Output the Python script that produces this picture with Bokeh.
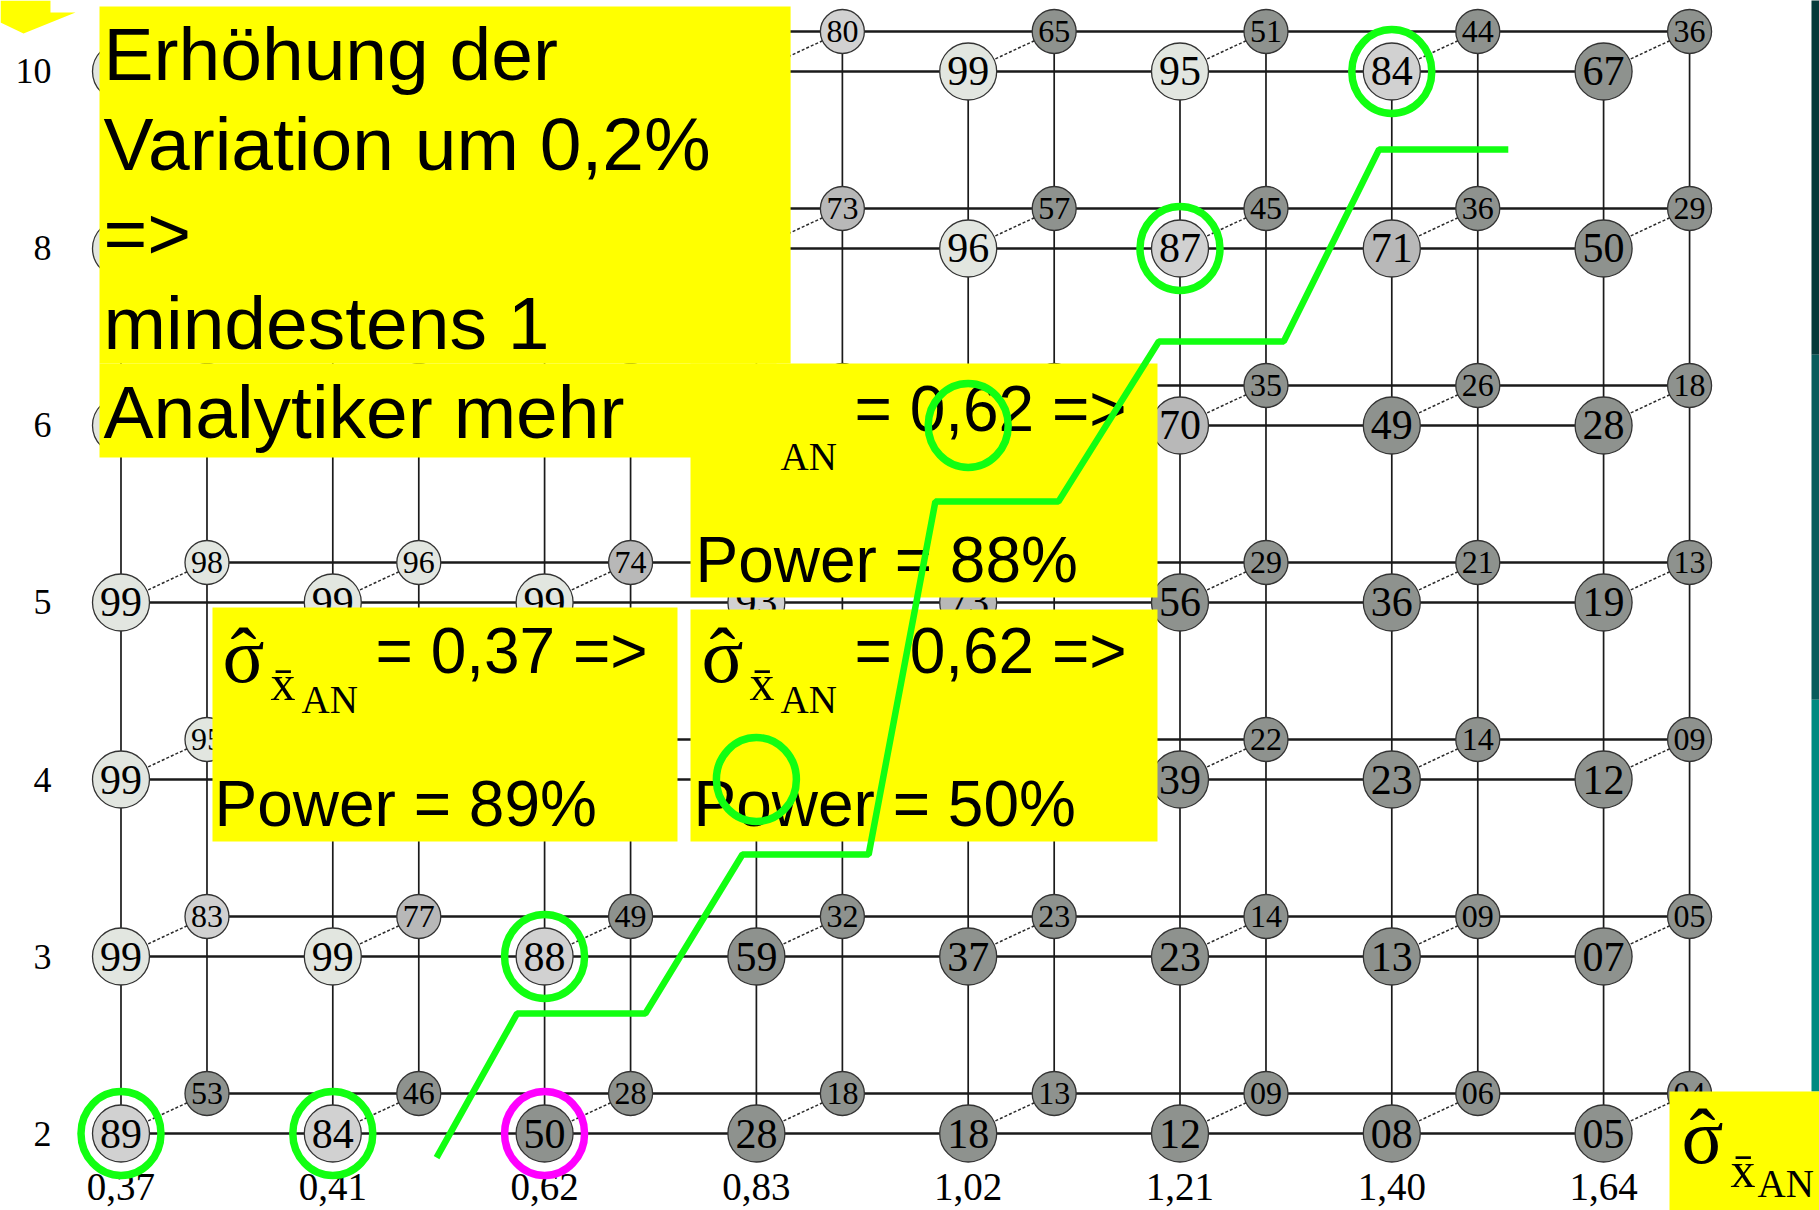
from bokeh.plotting import figure
from bokeh.models import Range1d, ColumnDataSource
from bokeh.core.properties import value
from bokeh.embed import file_html
from bokeh.resources import INLINE

# ---------------- data ----------------
sigma_labels = ["0,37", "0,41", "0,62", "0,83", "1,02", "1,21", "1,40", "1,64"]
n_labels = ["2", "3", "4", "5", "6", "8", "10"]          # rows, bottom to top

# Power (%) on the front grid; None = cell hidden behind an overlay box
front_power = [
    [89, 84, 50, 28, 18, 12, 8, 5],                       # n = 2
    [99, 99, 88, 59, 37, 23, 13, 7],                      # n = 3
    [99, None, None, None, None, 39, 23, 12],             # n = 4
    [99, 99, 99, 93, 73, 56, 36, 19],                     # n = 5
    [None, None, None, None, None, 70, 49, 28],           # n = 6
    [None, None, None, None, 96, 87, 71, 50],             # n = 8
    [None, None, None, None, 99, 95, 84, 67],             # n = 10
]
# Power (%) on the back grid
back_power = [
    [53, 46, 28, 18, 13, 9, 6, 4],
    [83, 77, 49, 32, 23, 14, 9, 5],
    [95, None, None, None, None, 22, 14, 9],
    [98, 96, 74, None, None, 29, 21, 13],
    [None, None, None, None, None, 35, 26, 18],
    [None, None, None, 73, 57, 45, 36, 29],
    [None, None, None, 80, 65, 51, 44, 36],
]
# highlighted cells (sigma label, n label)
green_cells = [("0,37", "2"), ("0,41", "2"), ("0,62", "3"), ("1,21", "8"),
               ("1,40", "10"), ("1,02", "6"), ("0,83", "4")]
magenta_cells = [("0,62", "2")]

# green step line (in grid units: column index, row index)
step_x = [1.49, 1.87, 2.476, 2.934, 3.53, 3.845, 4.426, 4.90, 5.49, 5.94, 6.55]
step_y = [-0.136, 0.678, 0.678, 1.576, 1.576, 3.57, 3.57, 4.475, 4.475, 5.56, 5.56]

# ---------------- figure ----------------
p = figure(width=1819, height=1210,
           x_range=Range1d(-0.5689, 8.0194), y_range=Range1d(-0.4350, 6.4011),
           output_backend="svg", toolbar_location=None, min_border=0,
           x_axis_location=None, y_axis_location=None,
           outline_line_color=None, background_fill_color="white",
           border_fill_color="white")
p.grid.visible = False

ncol, nrow = len(sigma_labels), len(n_labels)
DX, DY = 0.406, 0.226     # offset of the back grid
LINE = "#1a1a1a"
SERIF = value("Liberation Serif")
SANS = value("Liberation Sans")

# slide background edge on the right
p.quad(left=[7.9816] * 3, right=[8.03] * 3, top=[6.41, 4.40, 2.45], bottom=[4.40, 2.45, 0.2373],
       fill_color=["#073a3a", "#0a5c5c", "#008a80"], line_color=None)

# grid lines
fh_x = [[0, ncol - 1] for r in range(nrow)]
fh_y = [[r, r] for r in range(nrow)]
fv_x = [[c, c] for c in range(ncol)]
fv_y = [[0, nrow - 1] for c in range(ncol)]
p.multi_line([[a + DX for a in xs] for xs in fh_x], [[b + DY for b in ys] for ys in fh_y],
             line_color=LINE, line_width=2.6)
p.multi_line([[a + DX for a in xs] for xs in fv_x], [[b + DY for b in ys] for ys in fv_y],
             line_color=LINE, line_width=1.7)
p.multi_line(fh_x, fh_y, line_color=LINE, line_width=2.6)
p.multi_line(fv_x, fv_y, line_color=LINE, line_width=1.7)
dg_x, dg_y = [], []
for r in range(nrow):
    for c in range(ncol):
        dg_x.append([c, c + DX])
        dg_y.append([r, r + DY])
p.multi_line(dg_x, dg_y, line_color="#2a2a2a", line_width=1.5, line_dash="3 2")


def shade(v):
    if v is None or v >= 95:
        return "#e2e6e0"
    if v >= 80:
        return "#d1d1d1"
    if v >= 70:
        return "#b8b8b8"
    return "#8e928e"


def nodes(grid, ox, oy):
    xs, ys, cols, lx, ly, lt = [], [], [], [], [], []
    for r, row in enumerate(grid):
        for c, v in enumerate(row):
            xs.append(c + ox)
            ys.append(r + oy)
            cols.append(shade(v))
            if v is not None:
                lx.append(c + ox)
                ly.append(r + oy)
                lt.append(f"{v:02d}")
    return (ColumnDataSource(dict(x=xs, y=ys, c=cols)),
            ColumnDataSource(dict(x=lx, y=ly, t=lt)))


bsrc, blab = nodes(back_power, DX, DY)
fsrc, flab = nodes(front_power, 0, 0)
p.scatter("x", "y", source=bsrc, size=44, fill_color="c", line_color="#333333", line_width=1.3)
p.text("x", "y", text="t", source=blab, text_font=SERIF, text_font_size="32px",
       text_align="center", text_baseline="middle", text_color="black")
p.scatter("x", "y", source=fsrc, size=57, fill_color="c", line_color="#333333", line_width=1.3)
p.text("x", "y", text="t", source=flab, text_font=SERIF, text_font_size="42px",
       text_align="center", text_baseline="middle", text_color="black")

# axis labels
p.text(x=list(range(ncol)), y=[-0.3017] * ncol, text=sigma_labels, text_font=SERIF,
       text_font_size="39px", text_align="center", text_baseline="middle", text_color="black")
p.text(x=[-0.328] * nrow, y=list(range(nrow)), text=n_labels, text_font=SERIF,
       text_font_size="36px", text_align="right", text_baseline="middle", text_color="black")

# yellow overlay boxes
YEL = "#ffff00"
p.quad(left=[2.6889, -0.1015, -0.1015, 0.4320, 2.6889, 7.3112],
       right=[4.8938, 3.1615, 3.0949, 2.6275, 4.8938, 8.07],
       top=[4.3503, 6.3672, 4.3503, 2.9718, 2.9605, 0.2373],
       bottom=[3.0282, 4.3503, 3.8192, 1.6497, 1.6497, -0.4633],
       fill_color=YEL, line_color=None)
p.patch([-0.5689, -0.3329, -0.3329, -0.2148, -0.4603, -0.5689],
        [6.4011, 6.4011, 6.3333, 6.3333, 6.2147, 6.2768], fill_color=YEL, line_color=None)

# texts of box A
boxA_lines = ["Erhöhung der", "Variation um 0,2%", "=>", "mindestens 1", "Analytiker mehr"]
p.text(x=[-0.0826] * 5, y=[6.0975, 5.5918, 5.0862, 4.5805, 4.0749], text=boxA_lines,
       text_font=SANS, text_font_size="75px", text_baseline="middle", text_color="black")

# sigma-hat x-bar AN symbols
p.text(x=[0.4792, 2.7408, 7.3678], y=[2.7023, 2.7023, -0.0153], text=["\u03c3"] * 3,
       text_font=SERIF, text_font_size="78px", text_baseline="middle", text_color="black")
p.text(x=[0.5784, 2.8400, 7.4669], y=[2.7023, 2.7023, -0.0153], text=["\u02c6"] * 3,
       text_font=SERIF, text_font_size="78px", text_align="center", text_baseline="middle",
       text_color="black")
p.text(x=[0.7058, 2.9674, 7.5991], y=[2.5452, 2.5452, -0.2034], text=["x\u0304"] * 3,
       text_font=SERIF, text_font_size="50px", text_baseline="middle", text_color="black")
p.text(x=[0.8522, 3.1138, 3.1138, 7.7266], y=[2.4537, 2.4537, 3.8266, -0.2825], text=["AN"] * 4,
       text_font=SERIF, text_font_size="39px", text_baseline="middle", text_color="black")
p.text(x=[1.2016, 3.4632, 3.4632], y=[2.7232, 2.7232, 4.0960],
       text=["= 0,37 =>", "= 0,62 =>", "= 0,62 =>"],
       text_font=SANS, text_font_size="64px", text_baseline="middle", text_color="black")
p.text(x=[0.4415, 2.7030, 2.7125], y=[1.8644, 1.8644, 3.2373],
       text=["Power = 89%", "Power = 50%", "Power = 88%"],
       text_font=SANS, text_font_size="64px", text_baseline="middle", text_color="black")


# highlight rings
def cell_xy(cells):
    return ([sigma_labels.index(s) for s, n in cells], [n_labels.index(n) for s, n in cells])


gx, gy = cell_xy(green_cells)
mx, my = cell_xy(magenta_cells)
p.ellipse(gx, gy, width=80, height=84, width_units="screen", height_units="screen",
          fill_color=None, line_color="#11ff11", line_width=7.5)
p.ellipse(mx, my, width=80, height=84, width_units="screen", height_units="screen",
          fill_color=None, line_color="#ff00ff", line_width=7.5)

# green step line
p.line(step_x, step_y, line_color="#11ff11", line_width=6.5)

open("out.html", "w").write(file_html(p, INLINE))
